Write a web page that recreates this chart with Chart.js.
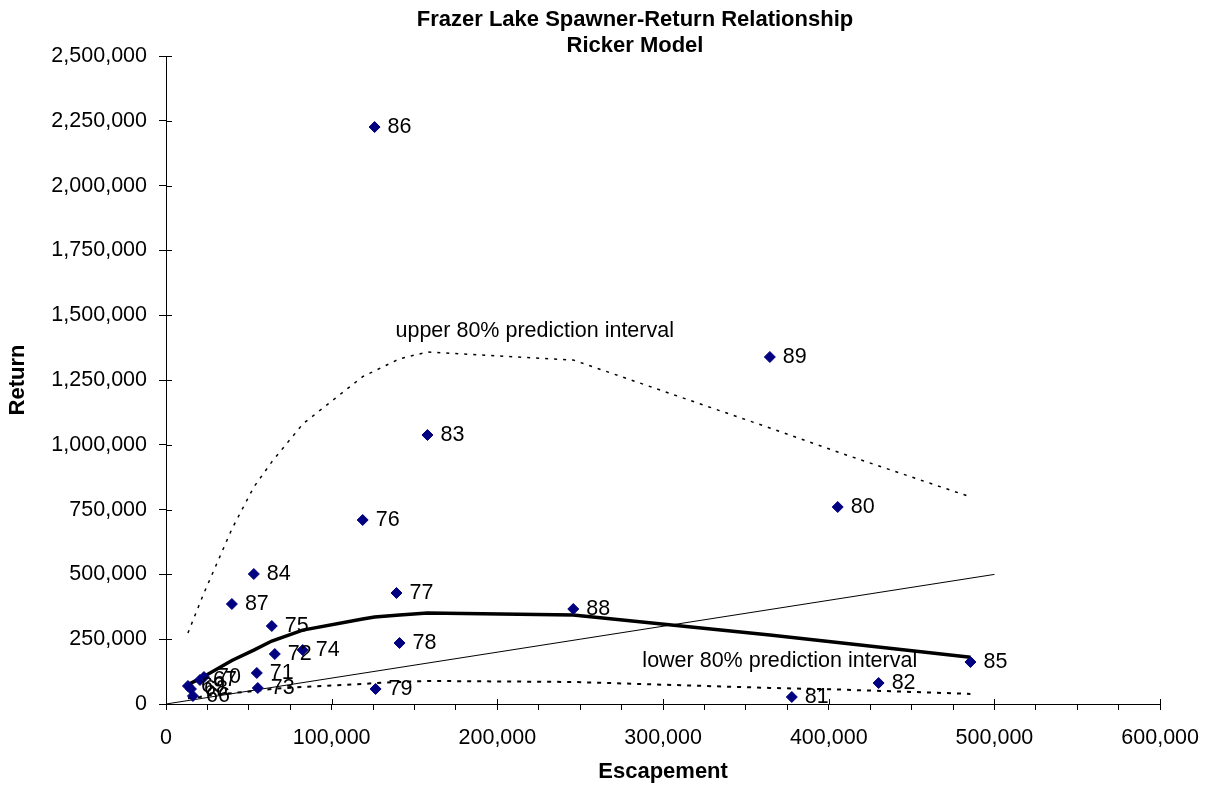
<!DOCTYPE html>
<html>
<head>
<meta charset="utf-8">
<script src="https://cdn.jsdelivr.net/npm/chart.js@4.4.0/dist/chart.umd.min.js"></script>
<style>
  body { margin: 0; background: #fff; }
  #wrap { width: 1214px; height: 788px; }
</style>
</head>
<body>
<div id="wrap"><canvas id="srChart" width="1214" height="788"></canvas></div>
<script>
// Datos
const years = ["66", "67", "68", "69", "70", "71", "72", "73", "74", "75", "76", "77",
  "78", "79", "80", "81", "82", "83", "84", "85", "86", "87", "88", "89"];
const escapement = [16260, 20500, 15060, 13250, 22900, 54800, 65660, 55400, 82500, 63850, 118700, 139100,
  140960, 126500, 405400, 377700, 430100, 157800, 53000, 485500, 125900, 39760, 245800, 364450];
const returns = [30900, 92600, 57900, 69400, 104000, 119600, 192900, 61700, 208300, 300900, 709900, 428200,
  235300, 57900, 760000, 27000, 81000, 1037800, 501500, 162000, 2226000, 385800, 366500, 1338700];

// Curvas del modelo (en escapes ordenados)
const curveEscapement = [13250, 20500, 22900, 39760, 53000, 63850, 82500, 118700, 125900, 140960,
  157800, 245800, 364450, 405400, 485500];
const rickerReturn = [75000, 98000, 106000, 168000, 208000, 243000, 285000, 328000, 336000, 343000,
  351000, 343000, 266000, 237000, 180000];
const upperPI = [274000, 390000, 428000, 675000, 837000, 934000, 1080000, 1263000, 1285000, 1332000,
  1358000, 1327000, 1065000, 972000, 799000];
const lowerPI = [22000, 27000, 31000, 42000, 50000, 58000, 66000, 77000, 81000, 85000,
  89000, 85000, 62000, 56000, 39000];

// Línea de reemplazo
const replacementX = [0, 500000];
const replacementY = [0, 500000];

const xTicks = [0, 100000, 200000, 300000, 400000, 500000, 600000];
const yTicks = [0, 250000, 500000, 750000, 1000000, 1250000, 1500000, 1750000, 2000000, 2250000, 2500000];

const titleLines = ["Frazer Lake Spawner-Return Relationship", "Ricker Model"];
const notes = [
  { text: "upper 80% prediction interval", x: 138500, y: 1417000 },
  { text: "lower 80% prediction interval", x: 287500, y: 144000 },
];

const FONT = "'Liberation Sans', Arial, sans-serif";

function toPoints(xs, ys) {
  return xs.map((x, i) => ({ x: x, y: ys[i] }));
}

// Marcas de eje que cruzan hacia dentro
const innerTicks = {
  id: "innerTicks",
  afterDraw(chart) {
    const ctx = chart.ctx;
    const area = chart.chartArea;
    ctx.save();
    ctx.strokeStyle = "#000";
    ctx.lineWidth = 1;
    ctx.beginPath();
    yTicks.forEach((v) => {
      const py = Math.round(chart.scales.y.getPixelForValue(v)) + 0.5;
      ctx.moveTo(area.left, py);
      ctx.lineTo(area.left + 6, py);
    });
    xTicks.forEach((v) => {
      const px = Math.round(chart.scales.x.getPixelForValue(v)) + 0.5;
      ctx.moveTo(px, area.bottom);
      ctx.lineTo(px, area.bottom - 5);
    });
    ctx.stroke();
    ctx.restore();
  },
};

// Etiquetas de años, notas y título
const labelPlugin = {
  id: "labelPlugin",
  afterDatasetsDraw(chart) {
    const ctx = chart.ctx;
    const meta = chart.getDatasetMeta(0);
    ctx.save();
    ctx.fillStyle = "#000";
    ctx.font = "21.5px " + FONT;
    ctx.textAlign = "left";
    ctx.textBaseline = "middle";
    meta.data.forEach((pt, i) => {
      ctx.fillText(years[i], pt.x + 13, pt.y);
    });

    ctx.textBaseline = "alphabetic";
    notes.forEach((n) => {
      const px = chart.scales.x.getPixelForValue(n.x);
      const py = chart.scales.y.getPixelForValue(n.y);
      ctx.fillText(n.text, px, py);
    });

    ctx.font = "bold 22px " + FONT;
    ctx.textAlign = "center";
    ctx.fillText(titleLines[0], 635, 26);
    ctx.fillText(titleLines[1], 635, 52);
    ctx.restore();
  },
};

const ctx = document.getElementById("srChart").getContext("2d");
new Chart(ctx, {
  type: "scatter",
  data: {
    datasets: [
      {
        label: "Return",
        data: toPoints(escapement, returns),
        pointStyle: "rectRot",
        pointRadius: 5.5,
        backgroundColor: "#000080",
        borderColor: "#000080",
        borderWidth: 1,
        order: 0,
      },
      {
        label: "Ricker",
        data: toPoints(curveEscapement, rickerReturn),
        showLine: true,
        pointRadius: 0,
        borderColor: "#000",
        borderWidth: 3.5,
        order: 1,
      },
      {
        label: "Upper",
        data: toPoints(curveEscapement, upperPI),
        showLine: true,
        pointRadius: 0,
        borderColor: "#000",
        borderWidth: 1.5,
        borderDash: [3, 6],
        order: 2,
      },
      {
        label: "Lower",
        data: toPoints(curveEscapement, lowerPI),
        showLine: true,
        pointRadius: 0,
        borderColor: "#000",
        borderWidth: 2,
        borderDash: [4, 6],
        order: 3,
      },
      {
        label: "Replacement",
        data: toPoints(replacementX, replacementY),
        showLine: true,
        pointRadius: 0,
        borderColor: "#000",
        borderWidth: 1,
        order: 4,
      },
    ],
  },
  options: {
    responsive: false,
    animation: false,
    layout: { padding: { top: 56, right: 50, bottom: 0, left: 0 } },
    plugins: {
      legend: { display: false },
      tooltip: { enabled: false },
      title: { display: false },
    },
    scales: {
      x: {
        type: "linear",
        min: xTicks[0],
        max: xTicks[xTicks.length - 1],
        border: { color: "#000", width: 1 },
        grid: { drawOnChartArea: false, tickLength: 6, color: "#000" },
        ticks: {
          stepSize: 25000,
          autoSkip: false,
          maxRotation: 0,
          padding: 15,
          color: "#000",
          font: { family: FONT, size: 21.5 },
          callback: (v) => (xTicks.includes(v) ? v.toLocaleString("en-US") : ""),
        },
        title: {
          display: true,
          text: "Escapement",
          color: "#000",
          font: { family: FONT, size: 22, weight: "bold" },
          padding: { top: 0, bottom: 3 },
        },
        afterFit: (s) => { s.height = 84; },
      },
      y: {
        type: "linear",
        min: yTicks[0],
        max: yTicks[yTicks.length - 1],
        border: { color: "#000", width: 1 },
        grid: { drawOnChartArea: false, tickLength: 7, color: "#000" },
        ticks: {
          stepSize: 250000,
          padding: 12,
          color: "#000",
          font: { family: FONT, size: 21.5 },
          callback: (v) => v.toLocaleString("en-US"),
        },
        title: {
          display: true,
          text: "Return",
          color: "#000",
          font: { family: FONT, size: 22, weight: "bold" },
          padding: { top: 5, bottom: 0 },
        },
        afterFit: (s) => { s.width = 166; },
      },
    },
  },
  plugins: [labelPlugin, innerTicks],
});
</script>
</body>
</html>
